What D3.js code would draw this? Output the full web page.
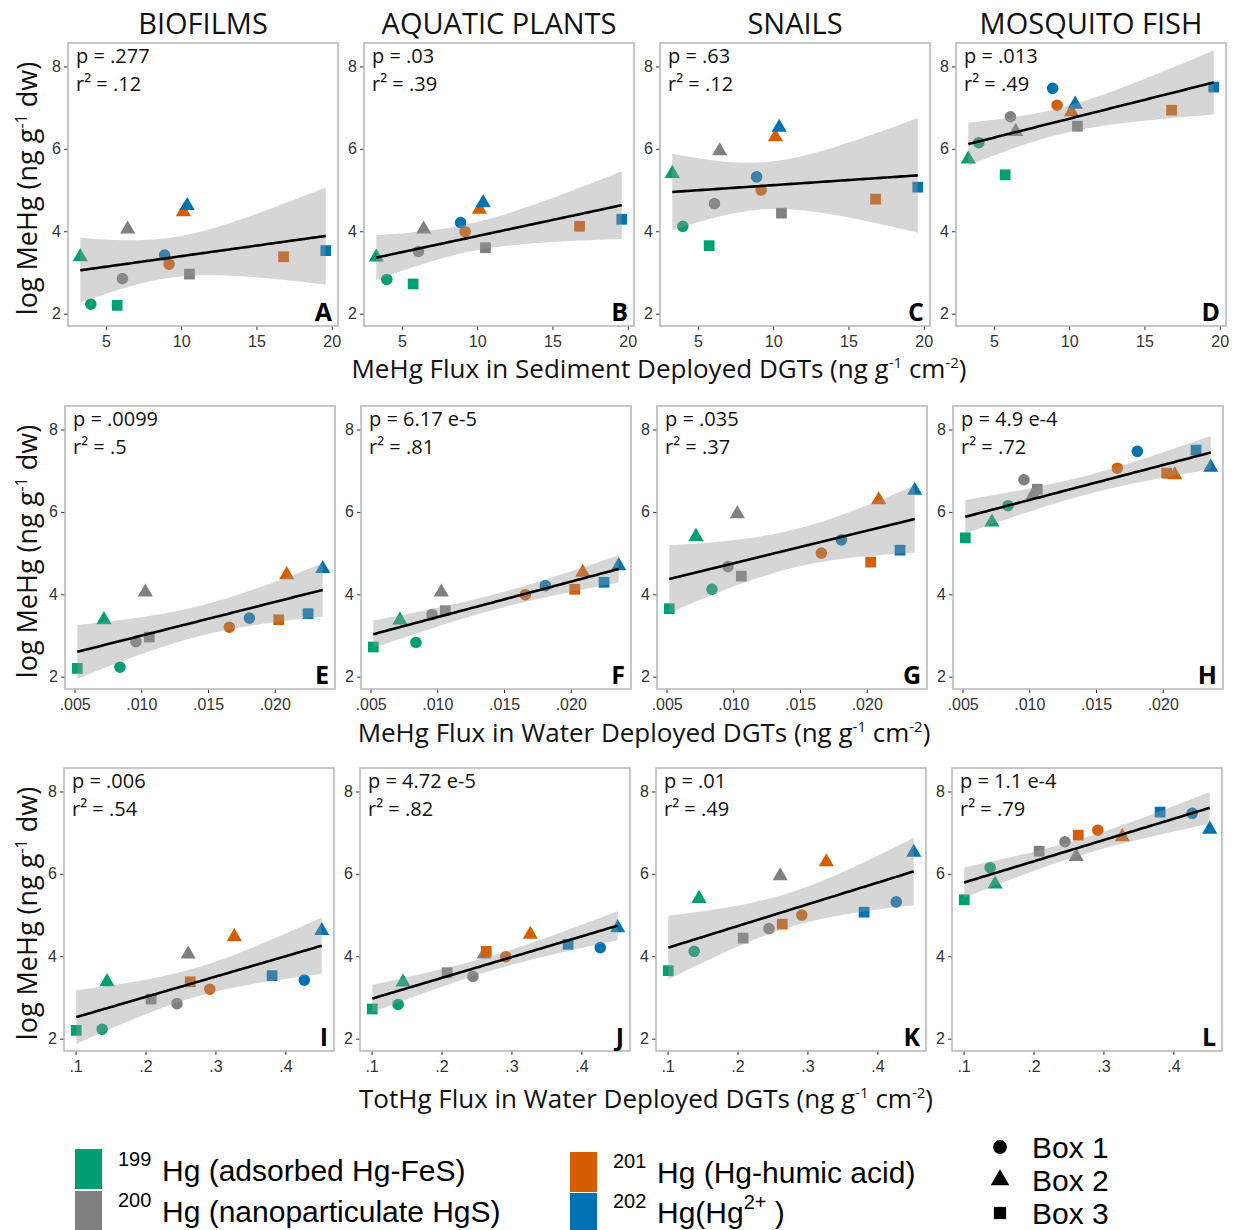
<!DOCTYPE html>
<html>
<head>
<meta charset="utf-8">
<script src="https://cdn.jsdelivr.net/npm/d3@7"></script>
<style>
  body { margin: 0; background: #fff; }
</style>
</head>
<body>
<div id="chart"></div>
<script>
// ---- data ----
const organisms = ["BIOFILMS", "AQUATIC PLANTS", "SNAILS", "MOSQUITO FISH"]
const isotopes = ["199", "200", "201", "202"]
const boxes = ["Box 1", "Box 2", "Box 3"]

// point order: for each isotope -> Box 1, Box 2, Box 3
const pointIsotope = ["199","199","199","200","200","200","201","201","201","202","202","202"]
const pointBox = ["Box 1","Box 2","Box 3","Box 1","Box 2","Box 3","Box 1","Box 2","Box 3","Box 1","Box 2","Box 3"]

const sedimentFlux = [4.0, 3.3, 5.75, 6.1, 6.45, 10.55, 9.2, 10.15, 16.8, 8.9, 10.4, 19.6]
const waterFlux = [0.0084, 0.0072, 0.0052, 0.0096, 0.0103, 0.0106, 0.0166, 0.0209, 0.0203, 0.0181, 0.0236, 0.0225]
const totHgFlux = [0.138, 0.145, 0.101, 0.245, 0.261, 0.208, 0.292, 0.327, 0.264, 0.427, 0.452, 0.381]

const biofilmsMeHg = [2.23, 3.38, 2.2, 2.85, 4.05, 2.96, 3.2, 4.47, 3.38, 3.42, 4.62, 3.53]
const plantsMeHg = [2.83, 3.37, 2.72, 3.51, 4.05, 3.6, 3.99, 4.53, 4.12, 4.21, 4.69, 4.29]
const snailsMeHg = [4.12, 5.4, 3.65, 4.67, 5.95, 4.44, 5.0, 6.29, 4.78, 5.32, 6.52, 5.07]
const fishMeHg = [6.15, 5.75, 5.37, 6.78, 6.42, 6.55, 7.06, 6.9, 6.94, 7.47, 7.08, 7.5]

const pValues = [
  [".277", ".03", ".63", ".013"],
  [".0099", "6.17 e-5", ".035", "4.9 e-4"],
  [".006", "4.72 e-5", ".01", "1.1 e-4"]
]
const r2Values = [
  [".12", ".39", ".12", ".49"],
  [".5", ".81", ".37", ".72"],
  [".54", ".82", ".49", ".79"]
]
const panelLetters = ["A","B","C","D","E","F","G","H","I","J","K","L"]

const sedimentTicks = [5, 10, 15, 20]
const waterTicks = [0.005, 0.010, 0.015, 0.020]
const totHgTicks = [0.1, 0.2, 0.3, 0.4]
const yTicks = [2, 4, 6, 8]

const legendLabels = ["(adsorbed Hg-FeS)", "(nanoparticulate HgS)", "(Hg-humic acid)", "(Hg"]

// ---- styling / layout ----
const colors = { "199": "#009E73", "200": "#808080", "201": "#D55E00", "202": "#0072B2" }
const shapes = { "Box 1": d3.symbolCircle, "Box 2": d3.symbolTriangle, "Box 3": d3.symbolSquare }
const shapeSize = { "Box 1": 105, "Box 2": 100, "Box 3": 115 }

const width = 1238
const height = 1230
const panelW = 270
const panelH = 283
const colStep = 296
const yDomain = [1.7, 8.57]
const sansFont = "'Open Sans', 'Noto Sans', sans-serif"
const arialFont = "'Liberation Sans', Arial, sans-serif"

const organismY = [biofilmsMeHg, plantsMeHg, snailsMeHg, fishMeHg]

const rows = [
  { xs: sedimentFlux, ticks: sedimentTicks, fmt: d3.format("d"), left: 68, top: 43,
    title: "MeHg Flux in Sediment Deployed DGTs", titleX: 659, titleY: 378 },
  { xs: waterFlux, ticks: waterTicks, fmt: d => d3.format(".3f")(d).replace(/^0/, ""), left: 65, top: 406,
    title: "MeHg Flux in Water Deployed DGTs", titleX: 644, titleY: 742 },
  { xs: totHgFlux, ticks: totHgTicks, fmt: d => d3.format(".1f")(d).replace(/^0/, ""), left: 64, top: 768,
    title: "TotHg Flux in Water Deployed DGTs", titleX: 646, titleY: 1108 }
]

const svg = d3.select("#chart").append("svg")
  .attr("width", width)
  .attr("height", height)
  .style("font-family", sansFont)

// simple OLS fit with 95% confidence band (like geom_smooth(method = "lm"))
function fitLine(xs, ys) {
  const n = xs.length
  const mx = d3.mean(xs), my = d3.mean(ys)
  let sxx = 0, sxy = 0
  xs.forEach((x, i) => { sxx += (x - mx) ** 2; sxy += (x - mx) * (ys[i] - my) })
  const b = sxy / sxx
  const a = my - b * mx
  let sse = 0
  xs.forEach((x, i) => { sse += (ys[i] - a - b * x) ** 2 })
  const s = Math.sqrt(sse / (n - 2))
  const t = 2.228 // t(0.975, df = 10)
  const [lo, hi] = d3.extent(xs)
  return d3.range(81).map(k => {
    const x = lo + (hi - lo) * k / 80
    const yhat = a + b * x
    const se = s * Math.sqrt(1 / n + (x - mx) ** 2 / sxx)
    return { x: x, y: yhat, lo: yhat - t * se, hi: yhat + t * se }
  })
}

// column titles
organisms.forEach((name, c) => {
  svg.append("text")
    .attr("x", rows[0].left + c * colStep + panelW / 2)
    .attr("y", 34)
    .attr("text-anchor", "middle")
    .attr("font-size", 29)
    .attr("fill", "#111")
    .text(name)
})

rows.forEach((row, r) => {
  const [xmin, xmax] = d3.extent(row.xs)
  const pad = (xmax - xmin) * 0.05
  const x = d3.scaleLinear().domain([xmin - pad, xmax + pad]).range([0, panelW])
  const y = d3.scaleLinear().domain(yDomain).range([panelH, 0])

  organisms.forEach((org, c) => {
    const ys = organismY[c]
    const idx = r * 4 + c
    const g = svg.append("g")
      .attr("transform", "translate(" + (row.left + c * colStep) + "," + row.top + ")")

    g.append("clipPath").attr("id", "clip" + idx)
      .append("rect").attr("width", panelW).attr("height", panelH)

    // axes
    const xAxis = g.append("g")
      .attr("transform", "translate(0," + panelH + ")")
      .call(d3.axisBottom(x).tickValues(row.ticks).tickFormat(row.fmt).tickSize(4).tickSizeOuter(0))
    const yAxis = g.append("g")
      .call(d3.axisLeft(y).tickValues(yTicks).tickFormat(d3.format("d")).tickSize(4).tickSizeOuter(0))
    ;[xAxis, yAxis].forEach(ax => {
      ax.select(".domain").remove()
      ax.selectAll("line").attr("stroke", "#333")
      ax.selectAll("text").attr("fill", "#333").attr("font-size", 16).attr("font-family", arialFont)
    })
    xAxis.selectAll("text").attr("dy", "0.85em")

    // points first (the band is laid over them, as in the original)
    const pts = row.xs.map((xv, i) => ({ x: xv, y: ys[i], iso: pointIsotope[i], box: pointBox[i] }))
    g.append("g").selectAll("path").data(pts).join("path")
      .attr("transform", d => "translate(" + x(d.x) + "," + y(d.y) + ")")
      .attr("d", d => d3.symbol().type(shapes[d.box]).size(shapeSize[d.box])())
      .attr("fill", d => colors[d.iso])

    const fit = fitLine(row.xs, ys)
    g.append("path").datum(fit)
      .attr("clip-path", "url(#clip" + idx + ")")
      .attr("fill", "#999999").attr("fill-opacity", 0.4)
      .attr("d", d3.area().x(d => x(d.x)).y0(d => y(d.lo)).y1(d => y(d.hi)))
    g.append("path").datum(fit)
      .attr("fill", "none").attr("stroke", "#000").attr("stroke-width", 2.6)
      .attr("d", d3.line().x(d => x(d.x)).y(d => y(d.y)))

    // panel border
    g.append("rect").attr("width", panelW).attr("height", panelH)
      .attr("fill", "none").attr("stroke", "#b5b5b5").attr("stroke-width", 1.5)

    // stats
    g.append("text").attr("x", 8).attr("y", 20).attr("font-size", 20).attr("fill", "#111")
      .text("p = " + pValues[r][c])
    g.append("text").attr("x", 8).attr("y", 48).attr("font-size", 20).attr("fill", "#111")
      .text("r² = " + r2Values[r][c])

    g.append("text").attr("x", panelW - 6).attr("y", panelH - 5)
      .attr("text-anchor", "end").attr("font-size", 25).attr("font-weight", "bold").attr("fill", "#000")
      .text(panelLetters[idx])
  })

  // x title with superscripts
  const xt = svg.append("text")
    .attr("x", row.titleX).attr("y", row.titleY)
    .attr("text-anchor", "middle").attr("font-size", 26).attr("fill", "#111")
  xt.append("tspan").text(row.title + " (ng g")
  xt.append("tspan").attr("font-size", 15).attr("dy", -10).text("-1")
  xt.append("tspan").attr("dy", 10).text(" cm")
  xt.append("tspan").attr("font-size", 15).attr("dy", -10).text("-2")
  xt.append("tspan").attr("dy", 10).text(")")

  // y title
  const yt = svg.append("text")
    .attr("transform", "translate(37," + (row.top + panelH / 2 + 4) + ") rotate(-90)")
    .attr("text-anchor", "middle").attr("font-size", 27).attr("fill", "#111")
  yt.append("tspan").text("log MeHg (ng g")
  yt.append("tspan").attr("font-size", 16).attr("dy", -10).text("-1")
  yt.append("tspan").attr("dy", 10).text(" dw)")
})

// ---- legend ----
const legend = svg.append("g").attr("font-family", arialFont).attr("fill", "#000")
const legendPos = [
  { x: 75, top: 1149, base: 1181 },
  { x: 75, top: 1191, base: 1222 },
  { x: 570, top: 1152, base: 1183 },
  { x: 570, top: 1193, base: 1223 }
]
isotopes.forEach((iso, i) => {
  const p = legendPos[i]
  legend.append("rect").attr("x", p.x).attr("y", p.top).attr("width", 27).attr("height", 40)
    .attr("fill", colors[iso])
  legend.append("text").attr("x", p.x + 43).attr("y", p.base - 15).attr("font-size", 20).text(iso)
  const t = legend.append("text").attr("x", p.x + 87).attr("y", p.base).attr("font-size", 30)
  if (iso === "202") {
    t.append("tspan").text("Hg(Hg")
    t.append("tspan").attr("font-size", 20).attr("dy", -14).text("2+")
    t.append("tspan").attr("dy", 14).text(" )")
  } else {
    t.text("Hg " + legendLabels[i])
  }
})
boxes.forEach((b, i) => {
  const cy = 1147 + i * 33
  legend.append("path")
    .attr("transform", "translate(1000," + cy + ")")
    .attr("d", d3.symbol().type(shapes[b]).size(150)())
    .attr("fill", "#000")
  legend.append("text").attr("x", 1032).attr("y", cy + 11).attr("font-size", 30).text(b)
})
</script>
</body>
</html>
